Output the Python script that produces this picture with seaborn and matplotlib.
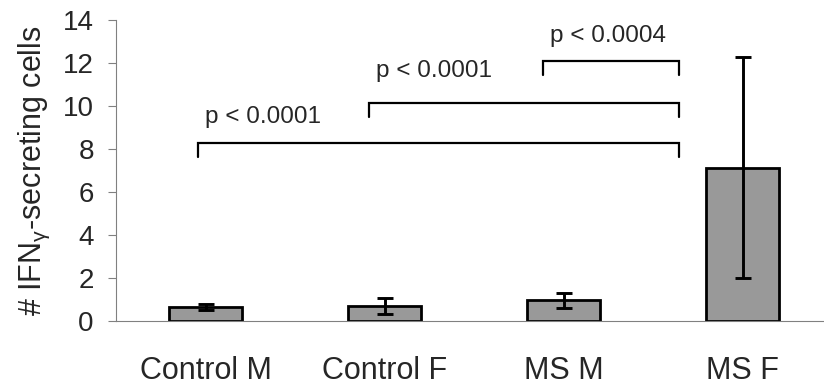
import matplotlib
matplotlib.use("Agg")
import matplotlib.pyplot as plt
import seaborn as sns
import pandas as pd
import numpy as np

categories = ["Control M", "Control F", "MS M", "MS F"]
means = [0.66, 0.70, 1.00, 7.13]
err_low = [0.50, 0.31, 0.62, 1.98]
err_high = [0.80, 1.05, 1.32, 12.29]

yticks = [0, 2, 4, 6, 8, 10, 12, 14]

# significance brackets: (left x, right x, height, label, label x, label baseline)
br_left = [-0.042, 0.913, 1.885]
br_right = [2.645, 2.645, 2.645]
br_height = [8.27, 10.13, 12.09]
br_labels = ["p < 0.0001", "p < 0.0001", "p < 0.0004"]
lab_x = [0.321, 1.274, 2.251]
lab_y = [9.19, 11.36, 12.99]

sns.set_style("white")
plt.rcParams["font.family"] = ["Liberation Sans", "DejaVu Sans"]
plt.rcParams["mathtext.fontset"] = "custom"
plt.rcParams["mathtext.rm"] = "Liberation Sans"
plt.rcParams["mathtext.it"] = "Liberation Sans"

df = pd.DataFrame({"group": categories, "value": means})

fig = plt.figure(figsize=(8.24, 3.88), dpi=100)
W, H = 824, 388
ax = fig.add_axes([116 / W, (H - 321) / H, 716 / W, 301 / H])

sns.barplot(data=df, x="group", y="value", color="#999999", edgecolor="black",
            linewidth=2, width=0.41, errorbar=None, saturation=1, ax=ax)

x = np.arange(len(categories))
m = np.array(means)
yerr = np.vstack([m - np.array(err_low), np.array(err_high) - m])
ax.errorbar(x, m, yerr=yerr, fmt="none", ecolor="black", elinewidth=2.1,
            capsize=6, capthick=2.1, zorder=5)

ax.set_xlim(-0.5, 3.5)
ax.set_ylim(0, 14)
ax.set_yticks(yticks)
ax.set_yticklabels([str(t) for t in yticks], fontsize=20)
ax.set_xticks(x)
ax.set_xticklabels(categories, fontsize=22)
ax.set_xticks(np.arange(-0.5, 4.0, 1.0), minor=True)
ax.tick_params(axis="x", which="major", length=0, pad=25)
ax.tick_params(axis="x", which="minor", length=6, width=0.8, color="#808080", direction="out")
ax.tick_params(axis="y", which="major", length=6, width=0.8, color="#808080", direction="out", pad=10, left=True)
ax.set_xlabel("")
ax.set_ylabel(r"# IFN$_{\gamma}$-secreting cells", fontsize=22, labelpad=8)

for s in ["top", "right"]:
    ax.spines[s].set_visible(False)
for s in ["left", "bottom"]:
    ax.spines[s].set_color("#808080")
    ax.spines[s].set_linewidth(0.8)

drop = 0.65
for l, r, h in zip(br_left, br_right, br_height):
    ax.plot([l, l, r, r], [h - drop, h, h, h - drop], color="black", lw=1.6,
            solid_joinstyle="miter", clip_on=False)
for t, tx, ty in zip(br_labels, lab_x, lab_y):
    ax.text(tx, ty, t, ha="center", va="baseline", fontsize=17.5)

fig.savefig("out.png", dpi=100)
